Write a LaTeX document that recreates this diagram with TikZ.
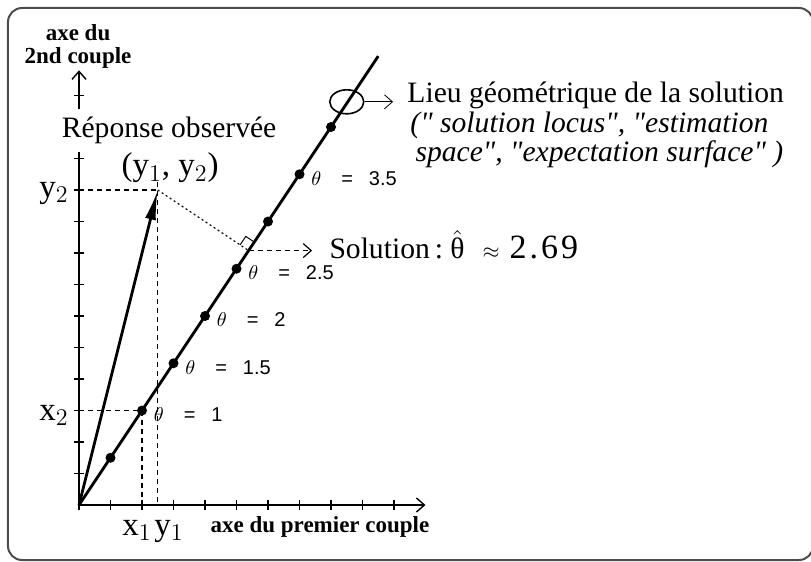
\documentclass[tikz,border=0pt]{standalone}
\usepackage{fontspec}
\setmainfont{Liberation Serif}[Ligatures=TeXOff]
\setsansfont{Liberation Sans}
\usetikzlibrary{arrows.meta,shapes.geometric}

\newcommand{\thetaval}[1]{\(\theta\)\hspace{10pt}{\sffamily =\hspace{8pt}#1}}

\begin{document}
\begin{tikzpicture}[x=15.75pt, y=15.75pt, >={Straight Barb[length=4pt,width=7pt]},
    axis/.style={line width=0.7pt},
    guide/.style={line width=0.6pt, dash pattern=on 2.5pt off 2pt},
    dot/.style={circle, fill, inner sep=0pt, minimum size=5pt},
    thlab/.style={anchor=west, inner sep=1pt, font=\fontsize{10}{11}\selectfont},
    txt/.style={font=\fontsize{14.8}{15}\selectfont},
    var/.style={font=\fontsize{16.5}{18}\selectfont, inner sep=1pt},
    axlab/.style={font=\fontsize{11.5}{11.5}\selectfont\bfseries, align=center}]
    \useasboundingbox (-2.508,-1.778) rectangle (23.238,16.032);
    \draw[line width=1pt, black!70, rounded corners=7pt] (-2.254,-1.746) rectangle (23.3,15.778);

    % axes
    \coordinate (O) at (0,0);
    \draw[axis, ->] (O) -- (11,0);
    \draw[axis, ->] (O) -- (0,13.8);
    \foreach \i in {0,...,10}
        \draw[axis] (\i,-0.17) -- (\i,0.17);
    \foreach \i in {1,...,11,13}
        \draw[axis] (-0.17,\i) -- (0.17,\i);
    \node[axlab] (yname) at (-0.03,14.55) {axe du\\2nd couple};
    \node[axlab] (xname) at (7.65,-0.7) {axe du premier couple};
    \node[txt, fill=white, inner ysep=4pt] (rep) at (2.86,11.9) {Réponse observée};
    \node[var] (repxy) at (2.89,10.7) {(y$_1$, y$_2$)};
    \node[var, anchor=east] (ylab2) at (-0.25,9.9) {y$_2$};
    \node[var, anchor=east] (xlab2) at (-0.25,2.85) {x$_2$};
    \node[var] (xlab1) at (1.84,-0.8) {x$_1$};
    \node[var] (ylab1) at (2.86,-0.83) {y$_1$};

    % observed response and its projection
    \coordinate (P) at (2.5,10);
    \coordinate (X) at (2,3);
    \coordinate (F) at (5.3846,8.0769);
    \draw[guide] (P -| O) -- (P);
    \draw[guide] ([yshift=4pt]P) -- (P |- O);
    \draw[guide] (X -| O) -- (X) -- (X |- O);
    \draw[line width=0.6pt, dash pattern=on 1pt off 1.4pt] (P) -- (F);
    \draw[line width=0.5pt] (F) -- ++(0.18,0.27) -- ++(-0.27,0.18) -- ++(-0.18,-0.27);

    % solution locus
    \draw[line width=1.4pt] (O) -- (9.5,14.25);
    \foreach \i in {1,...,8}
        \node[dot] (pt\i) at (\i,1.5*\i) {};
    \foreach \i/\v in {2/1, 3/1.5, 4/2, 5/2.5, 7/3.5}
        \node[thlab] (th\i) at ([xshift=2pt,yshift=-2pt]pt\i.east) {\thetaval{\v}};
    \draw[line width=1.4pt, -{Latex[length=15pt,width=5.5pt]}] (O) -- (P);

    \node[draw, ellipse, line width=0.8pt, minimum width=17pt, minimum height=12pt] (locus) at (8.5,12.8) {};
    \node[txt, anchor=base west, inner xsep=7pt] (lieu) at (9.97,12.79) {Lieu géométrique de la solution};
    \node[txt, anchor=base west, inner sep=0pt] (lieuA) at (10.51,11.84) {\itshape (" solution locus", "estimation};
    \node[txt, anchor=base west, inner sep=0pt] (lieuB) at (10.67,10.89) {\itshape space", "expectation surface" )};
    \draw[->] (locus.east) -- (locus.east -| lieu.west);

    \node[txt, anchor=base west, inner xsep=8.5pt] (sol) at (7.40,7.81)
        {Solution\,:\ \(\hat{\mbox{θ}}\)\hspace{9pt}{\fontsize{11}{11}\selectfont\(\approx\)}\hspace{5pt}{\fontsize{17}{17}\selectfont 2\kern1.5pt.\kern1.5pt6\kern1.5pt9}};
    \draw[guide, ->] (F) -- (F -| sol.west);
\end{tikzpicture}
\end{document}
